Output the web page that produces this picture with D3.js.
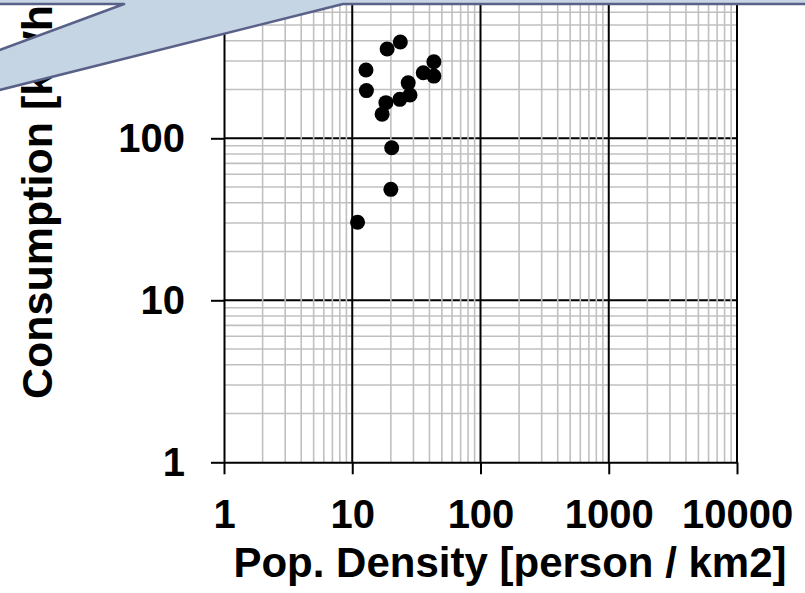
<!DOCTYPE html>
<html>
<head>
<meta charset="utf-8">
<script src="https://cdn.jsdelivr.net/npm/d3@7"></script>
<style>
  html, body { margin: 0; padding: 0; background: #fff; }
  svg { display: block; }
  text { font-family: "Liberation Sans", Arial, sans-serif; font-weight: bold; fill: #000; }
</style>
</head>
<body>
<script>
// ---- data ----
const popDensity  = [11.0, 20.0, 20.3, 17.1, 18.3, 12.9, 12.8, 18.7, 23.7, 23.5, 28.2, 27.3, 35.8, 43.3, 43.3];
const consumption = [30.3, 48.4, 87.5, 141, 166, 197, 264, 356, 393, 174, 185, 220, 254, 242, 297];
const xTickLabels = [1, 10, 100, 1000, 10000];
const yTickLabels = [1, 10, 100];
const xTitle = "Pop. Density [person / km2]";
const yTitle = "Consumption [kWh]";

const W = 805, H = 593;
const svg = d3.select("body").append("svg").attr("width", W).attr("height", H);

const x = d3.scaleLog().domain([1, 10000]).range([224, 737]);
const y = d3.scaleLog().domain([1, 1000]).range([462.3, -23.7]);

const mant = v => v / Math.pow(10, Math.floor(Math.log10(v) + 1e-9));
const isInt = v => Math.abs(mant(v) - Math.round(mant(v))) < 1e-6;
const isMajor = v => Math.abs(mant(v) - 1) < 1e-6;
const xAll = x.ticks().filter(isInt);
const yAll = y.ticks().filter(isInt);
const x0 = x.range()[0], x1 = x.range()[1];
const y0 = y.range()[0], y1 = y.range()[1];

const grid = svg.append("g");
// horizontal minor
grid.selectAll(".hmin").data(yAll.filter(v => !isMajor(v))).enter().append("line")
  .attr("x1", x0).attr("x2", x1).attr("y1", d => y(d)).attr("y2", d => y(d))
  .attr("stroke", "#c0c0c0").attr("stroke-width", 1.6);
// horizontal major
grid.selectAll(".hmaj").data(yAll.filter(v => isMajor(v) && v > 1)).enter().append("line")
  .attr("x1", x0).attr("x2", x1).attr("y1", d => y(d)).attr("y2", d => y(d))
  .attr("stroke", "#000").attr("stroke-width", 2);
// vertical minor
grid.selectAll(".vmin").data(xAll.filter(v => !isMajor(v))).enter().append("line")
  .attr("x1", d => x(d)).attr("x2", d => x(d)).attr("y1", y0).attr("y2", y1)
  .attr("stroke", "#c0c0c0").attr("stroke-width", 1.6);
// vertical major
grid.selectAll(".vmaj").data(xAll.filter(v => isMajor(v) && v > 1)).enter().append("line")
  .attr("x1", d => x(d)).attr("x2", d => x(d)).attr("y1", y0).attr("y2", y1)
  .attr("stroke", "#000").attr("stroke-width", 2);

// axes
const xAxis = d3.axisBottom(x).tickValues(xTickLabels).tickFormat(d3.format("d"))
  .tickSize(12).tickSizeOuter(0).tickPadding(25);
const yAxis = d3.axisLeft(y).tickValues(yTickLabels).tickFormat(d3.format("d"))
  .tickSize(13).tickSizeOuter(0).tickPadding(26);

const gx = svg.append("g").attr("transform", `translate(0,${y0})`).call(xAxis);
const gy = svg.append("g").attr("transform", `translate(${x0},0)`).call(yAxis);
[gx, gy].forEach(g => {
  g.selectAll("path, line").attr("stroke", "#000").attr("stroke-width", 2);
  g.selectAll("text").attr("font-size", 40).attr("font-family", '"Liberation Sans", Arial, sans-serif')
    .attr("font-weight", "bold").attr("fill", "#000");
});

// points
svg.append("g").selectAll("circle").data(popDensity.map((d, i) => [d, consumption[i]]))
  .enter().append("circle")
  .attr("cx", d => x(d[0])).attr("cy", d => y(d[1])).attr("r", 7.5).attr("fill", "#000");

// titles
svg.append("text").attr("x", 510).attr("y", 577).attr("text-anchor", "middle")
  .attr("font-size", 42).text(xTitle);
svg.append("text").attr("transform", "translate(52,399) rotate(-90)").attr("text-anchor", "start")
  .attr("font-size", 43).text(yTitle);

// callout shape overlay
const callout = [[-20, -40], [830, -40], [830, 4], [343, 4], [-332, 173], [124, 4], [-20, 4]];
svg.append("path").attr("d", d3.line()(callout) + "Z")
  .attr("fill", "#c6d5e3").attr("stroke", "#5a6189").attr("stroke-width", 2.6)
  .attr("stroke-linejoin", "round");
</script>
</body>
</html>
